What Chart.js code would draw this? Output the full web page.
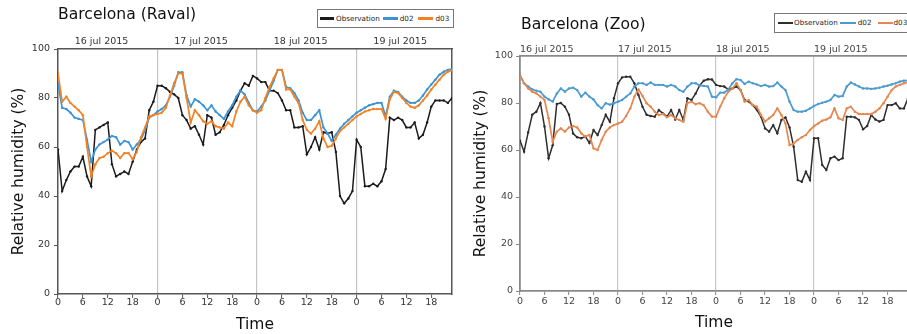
<!DOCTYPE html>
<html>
<head>
<meta charset="utf-8">
<script src="https://cdn.jsdelivr.net/npm/chart.js@4/dist/chart.umd.min.js"></script>
<style>
  html, body { margin: 0; padding: 0; background: #fff; width: 907px; height: 334px; overflow: hidden; }
  .panel { position: absolute; top: 0; height: 334px; }
  .panel canvas { position: absolute; left: 0; top: 0; }
  .title { position: absolute; font-family: 'DejaVu Sans', sans-serif; font-size: 15.6px; line-height: 16px; color: #111; white-space: nowrap; }
  .legend { position: absolute; box-sizing: border-box; border: 1px solid #777; background: #fff;
            font-family: 'DejaVu Sans', sans-serif; font-size: 7.2px; color: #222;
            display: flex; align-items: center; white-space: nowrap; }
  .legend .sw { display: inline-block; height: 2.5px; }
  .legend .tx { display: inline-block; line-height: 8px; }
</style>
</head>
<body>
<div class="panel" id="panelRaval" style="left:0;width:460px;">
  <canvas id="chartRaval" width="460" height="334"></canvas>
  <div class="title" style="left:58px;top:6px;">Barcelona (Raval)</div>
  <div class="legend" id="legendRaval" style="left:317px;top:9px;width:137px;height:19px;"></div>
</div>
<div class="panel" id="panelZoo" style="left:460px;width:460px;">
  <canvas id="chartZoo" width="460" height="334"></canvas>
  <div class="title" style="left:61px;top:16px;">Barcelona (Zoo)</div>
  <div class="legend" id="legendZoo" style="left:314px;top:13px;width:150px;height:20px;"></div>
</div>
<script>
// Hour of the period (16-19 July 2015), one value per hour
const hours = [0,1,2,3,4,5,6,7,8,9,10,11,12,13,14,15,16,17,18,19,20,21,22,23,
  24,25,26,27,28,29,30,31,32,33,34,35,36,37,38,39,40,41,42,43,44,45,46,47,
  48,49,50,51,52,53,54,55,56,57,58,59,60,61,62,63,64,65,66,67,68,69,70,71,
  72,73,74,75,76,77,78,79,80,81,82,83,84,85,86,87,88,89,90,91,92,93,94,95];

const hourTicks = [0,6,12,18,24,30,36,42,48,54,60,66,72,78,84,90];
const dayLabels = ['16 jul 2015', '17 jul 2015', '18 jul 2015', '19 jul 2015'];
const dayLabelHoursRaval = [10.5, 34.5, 58.5, 82.5];
const dayLabelHoursZoo = [0, 24, 48, 72];

// Relative humidity (%) - Barcelona (Raval)
const ravalObs = [59,42,46.5,50,52,52,56,48,44,67,68,69,70,53,48,49,50,49,54,59,62,63.5,75,78.5,
  85,85,84,82.5,81.5,80,73,71,67.5,68.5,65,61,73,72,65,66,69,73,76,79,83,86,85,89,
  88,86.5,86.5,83,83,82,79,75,75,68,68,68.5,57,60,64,59,66,65.5,66,58,40,37,39,42,
  63,60,44,44,45,44,46,51,72,71,72,71,68,68,70,63.5,65,70,76.5,79,79,79,78,80];
const ravalD02 = [86,76,75.5,74,72,71.5,71,63,54,59,61,62,63,64.5,64,61,62.5,62,59,61,63,67,72,73,
  74.5,75.5,77,80.5,85,90.5,90.5,81,76.5,79.5,78.5,77,75,77,74.5,73,71.5,74.5,77,80.5,83,81.5,78,75,
  74.5,76.5,79,83,87,91.5,91.5,84.5,84,82,79,74,71,71,73,75,68,65.5,62.5,65,67.5,69.5,71,72.5,
  74,75,76,77,77.5,78,78,72.5,80.5,83,82.5,80.5,79,78,78,79,81,83.5,85.5,87.5,89.5,90.7,91.5,91.8];
const ravalD03 = [90,78.5,80.5,78,76.5,75,73,60,48,53,55.5,56,57.5,58.5,57.5,55.5,57.5,57.5,55,58,64,68,72.5,73,
  73.5,74,76,81,86,90,90,80,70,75,73,70.5,69.5,70.5,68.5,68,67.5,70,68.5,74.5,78.5,80.5,77,75,
  74,75,80,84.5,88,91.5,91.5,83.5,83.5,80.5,78,71,67,65.5,67.5,70.5,63.5,60,60.5,63.5,66.5,68,69.5,71,
  72.5,73.5,74.5,75,75.5,75.5,75.5,71.5,79.5,82.5,82,80,78,76.5,76,77,79,81,83.5,85.5,87.5,89.5,90.7,91.3];

// Relative humidity (%) - Barcelona (Zoo)
const zooObs = [64,59.3,67.5,75,76.3,80,70,56.5,62,79.6,80,78.4,75,67,65.4,65,65.7,63,68.5,66.4,70.6,75,72,82,
  88.4,90.9,91.2,91.2,88.4,83.4,78.4,75,74.5,74.2,77,75.6,74.2,77,73,77,72.8,82,81.3,84,87.5,89.5,90.1,90,
  87.7,87.2,87,85.8,86.2,87,85.5,81.3,80.6,79.1,77,74.2,69.2,67.8,70.6,67.1,72.8,73.9,69.6,61.4,47.2,46.5,50.8,47.2,
  65,65,53.6,51.5,56.5,57.2,55.7,56.5,74.2,74.2,73.9,72.8,68.8,70.2,74.9,73,72.1,72.8,79.1,79.1,79.9,77.7,77.7,82];
const zooD02 = [92,88.4,87,85.8,85.2,84.8,82.7,81.6,80.6,84,86.2,84.8,86.2,86.5,85.5,82.7,84.4,82.7,81.5,79.1,77.7,79.9,79.3,79.9,
  80.6,81.3,82.7,84.1,87,88.4,88.4,87.7,88.7,87.7,87.7,87.7,87,87.7,87,85.5,84.8,87,88.4,88.4,87.5,87.3,87,82.7,
  82.4,84.4,84.4,85.8,88.4,90.1,89.8,88.1,89.1,88.4,87.9,87.2,87.7,87,87.2,88.7,87,85.5,80.6,77,76.3,76.3,76.7,77.7,
  78.7,79.6,80.1,80.6,81.3,83.4,82.7,83,87,88.7,87.9,87,86.2,86.2,86,86.2,86.5,87,87.4,87.9,88.4,89.1,89.5,89.5];
const zooD03 = [91.5,88.4,86.2,84.8,84.1,82.7,81.3,73.5,63.5,67.8,69.2,67.8,69.6,70.2,69.6,67.1,65.7,66.4,60.7,60,64.3,67.8,69.6,70.6,
  71.3,72,74.5,77.7,82.7,85.8,83,79.9,78.4,76.3,74.9,75.3,73.9,74.9,73.5,72.8,72,80,80.5,79.5,79.9,79,76.3,74.2,
  74.2,78.4,82,84.8,86.2,88.4,85.5,80.6,81.3,79.1,78.4,74.9,72.1,73.5,74.9,77.7,74.9,71.3,62.1,62.8,64.3,65.4,66.4,68.5,
  70.2,71.3,72.5,73,73.9,77.7,73.5,72.8,77.7,78.4,76.3,75.3,75.3,75.3,75.3,76.3,77.7,79.9,82.7,85.5,87,87.7,88.4,88.8];

const FONT = 'DejaVu Sans';

function series(label, data, color, width, order) {
  return {
    label, data, order,
    borderColor: color, backgroundColor: color,
    borderWidth: width, tension: 0,
    pointRadius: 1.2, pointBorderWidth: 0, pointBackgroundColor: color,
    pointHoverRadius: 0
  };
}

function buildPanel(canvasId, legendId, p) {
  const datasets = [
    series('Observation', p.obs, p.colors.obs, 1.5, 2),
    series('d02', p.d02, p.colors.d02, 1.7, 1),
    series('d03', p.d03, p.colors.d03, 1.7, 0)
  ];

  new Chart(document.getElementById(canvasId), {
    type: 'line',
    data: { labels: hours, datasets },
    options: {
      responsive: false,
      animation: false,
      devicePixelRatio: 1,
      events: [],
      layout: { padding: { left: 0, top: 0, right: p.padRight, bottom: 0 } },
      plugins: { legend: { display: false }, tooltip: { enabled: false }, title: { display: false } },
      scales: {
        x: {
          type: 'linear', position: 'bottom', min: 0, max: 95,
          afterBuildTicks: s => { s.ticks = hourTicks.map(v => ({ value: v })); },
          afterFit: s => { s.height = p.bottomH; },
          ticks: {
            autoSkip: false, maxRotation: 0, minRotation: 0,
            callback: v => String(v % 24),
            font: { family: FONT, size: 9.5, lineHeight: 1 },
            color: p.tickText, padding: p.xTickPad
          },
          grid: {
            color: c => (c.tick && c.tick.value % 24 === 0 && c.tick.value > 0) ? p.dayLine : 'rgba(0,0,0,0)',
            lineWidth: 1.2, drawTicks: true, tickLength: 4, tickColor: p.axis, tickWidth: 1
          },
          border: { display: true, color: p.axis, width: p.spineW },
          title: {
            display: true, text: 'Time', color: '#111',
            font: { family: FONT, size: 15.5, lineHeight: 1.2 },
            padding: { top: 0, bottom: p.timePad }
          }
        },
        xTop: {
          type: 'linear', position: 'top', min: 0, max: 95,
          afterBuildTicks: s => { s.ticks = p.dayHours.map(v => ({ value: v })); },
          afterFit: s => { s.height = p.topH; },
          ticks: {
            autoSkip: false, maxRotation: 0, minRotation: 0, align: p.dayAlign,
            callback: (v, i) => dayLabels[i],
            font: { family: FONT, size: 9.5, lineHeight: 1 },
            color: p.tickText, padding: p.dayPad
          },
          grid: { drawOnChartArea: false, drawTicks: false },
          border: { display: true, color: p.axis, width: p.spineW }
        },
        y: {
          type: 'linear', position: 'left', min: 0, max: 100,
          afterFit: s => { s.width = p.leftW; },
          ticks: {
            stepSize: 20,
            font: { family: FONT, size: 9.5, lineHeight: 1 },
            color: p.tickText, padding: p.yTickPad
          },
          grid: { drawOnChartArea: false, drawTicks: true, tickLength: 4, tickColor: p.axis },
          border: { display: true, color: p.axis, width: p.spineW },
          title: {
            display: true, text: 'Relative humidity (%)', color: '#111',
            font: { family: FONT, size: 15.5, lineHeight: 1.2 },
            padding: { top: p.yTitlePad, bottom: 0 }
          }
        },
        yRight: {
          type: 'linear', position: 'right', min: 0, max: 100,
          afterFit: s => { s.width = 0; },
          ticks: { display: false },
          grid: { drawOnChartArea: false, drawTicks: false },
          border: { display: true, color: p.axis, width: p.spineW }
        }
      }
    }
  });

  // Legend box built from the same dataset definitions
  const legend = document.getElementById(legendId);
  datasets.forEach((ds, i) => {
    const sw = document.createElement('span');
    sw.className = 'sw';
    sw.style.width = p.legend.sw[i] + 'px';
    sw.style.marginLeft = p.legend.before[i] + 'px';
    sw.style.background = ds.borderColor;
    const tx = document.createElement('span');
    tx.className = 'tx';
    tx.style.marginLeft = p.legend.gap[i] + 'px';
    tx.textContent = ds.label;
    legend.appendChild(sw);
    legend.appendChild(tx);
  });
}

buildPanel('chartRaval', 'legendRaval', {
  obs: ravalObs, d02: ravalD02, d03: ravalD03,
  colors: { obs: '#1b1b1b', d02: '#3d94d4', d03: '#f28224' },
  axis: '#555', dayLine: '#c4c4c4', tickText: '#333', spineW: 1.5,
  padRight: 8, leftW: 58, topH: 49, bottomH: 40,
  xTickPad: 0, yTickPad: 4, timePad: 0, yTitlePad: 9.2,
  dayHours: dayLabelHoursRaval, dayAlign: 'center', dayPad: 2.5,
  legend: { sw: [14, 15, 15], before: [2, 3, 4], gap: [2, 2, 3] }
});

buildPanel('chartZoo', 'legendZoo', {
  obs: zooObs, d02: zooD02, d03: zooD03,
  colors: { obs: '#2e2e2e', d02: '#4b9bd1', d03: '#e5874f' },
  axis: '#888', dayLine: '#c8c8c8', tickText: '#444', spineW: 1.8,
  padRight: 12, leftW: 60, topH: 56, bottomH: 43,
  xTickPad: 2.2, yTickPad: 3, timePad: 2.2, yTitlePad: 11.2,
  dayHours: dayLabelHoursZoo, dayAlign: 'start', dayPad: 2.2,
  legend: { sw: [15, 16, 15], before: [3, 2, 6], gap: [1, 2, 1] }
});
</script>
</body>
</html>
